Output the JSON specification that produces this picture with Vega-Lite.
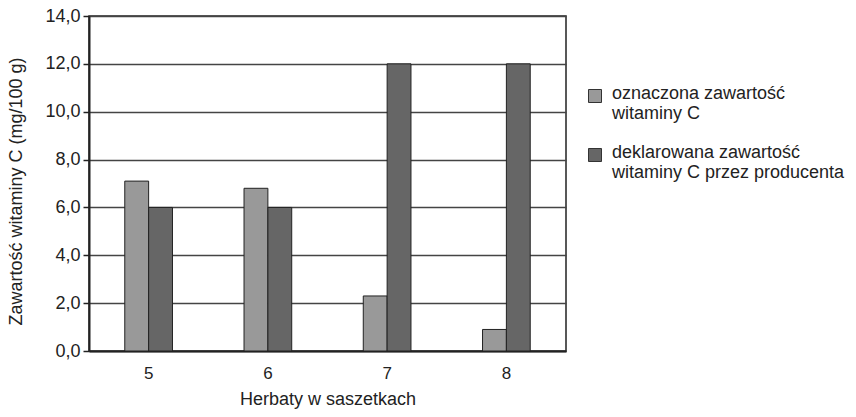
{
  "$schema": "https://vega.github.io/schema/vega-lite/v6.json",
  "width": 477,
  "height": 335,
  "autosize": {"type": "none"},
  "padding": {"left": 89, "top": 16, "right": 290, "bottom": 66},
  "background": "white",
  "config": {
    "font": "Liberation Sans",
    "view": {"stroke": "#222", "strokeWidth": 1.5}
  },
  "data": {
    "values": [
      {"herbata": "5", "seria": "oznaczona zawartość witaminy C", "wartosc": 7.1},
      {"herbata": "5", "seria": "deklarowana zawartość witaminy C przez producenta", "wartosc": 6.0},
      {"herbata": "6", "seria": "oznaczona zawartość witaminy C", "wartosc": 6.8},
      {"herbata": "6", "seria": "deklarowana zawartość witaminy C przez producenta", "wartosc": 6.0},
      {"herbata": "7", "seria": "oznaczona zawartość witaminy C", "wartosc": 2.3},
      {"herbata": "7", "seria": "deklarowana zawartość witaminy C przez producenta", "wartosc": 12.0},
      {"herbata": "8", "seria": "oznaczona zawartość witaminy C", "wartosc": 0.9},
      {"herbata": "8", "seria": "deklarowana zawartość witaminy C przez producenta", "wartosc": 12.0}
    ]
  },
  "mark": {"type": "bar", "stroke": "#222", "strokeWidth": 1},
  "encoding": {
    "x": {
      "field": "herbata",
      "type": "nominal",
      "scale": {"paddingInner": 0.6, "paddingOuter": 0.3},
      "axis": {
        "title": "Herbaty w saszetkach",
        "titleFont": "Liberation Sans",
        "titleFontSize": 18,
        "titleFontWeight": "normal",
        "titleColor": "#222",
        "titlePadding": 9,
        "labelAngle": 0,
        "labelFontSize": 17,
        "labelColor": "#222",
        "labelPadding": 14,
        "ticks": false,
        "domainColor": "#222",
        "domainWidth": 2
      }
    },
    "xOffset": {
      "field": "seria",
      "type": "nominal",
      "sort": ["oznaczona zawartość witaminy C", "deklarowana zawartość witaminy C przez producenta"]
    },
    "y": {
      "field": "wartosc",
      "type": "quantitative",
      "scale": {"domain": [0, 14], "nice": false},
      "axis": {
        "title": "Zawartość witaminy C (mg/100 g)",
        "titleFont": "Liberation Sans",
        "titleFontSize": 18,
        "titleFontWeight": "normal",
        "titleColor": "#222",
        "titleX": -64,
        "titleY": 175,
        "titleAngle": -90,
        "titleAlign": "center",
        "titleBaseline": "bottom",
        "values": [0, 2, 4, 6, 8, 10, 12, 14],
        "labelExpr": "replace(format(datum.value, '.1f'), '.', ',')",
        "labelFontSize": 18,
        "labelColor": "#222",
        "labelPadding": 3,
        "tickSize": 6,
        "tickColor": "#222",
        "tickWidth": 1.5,
        "domainColor": "#222",
        "domainWidth": 2,
        "grid": true,
        "gridColor": "#444",
        "gridWidth": 1.5
      }
    },
    "color": {
      "field": "seria",
      "type": "nominal",
      "sort": ["oznaczona zawartość witaminy C", "deklarowana zawartość witaminy C przez producenta"],
      "scale": {
        "domain": ["oznaczona zawartość witaminy C", "deklarowana zawartość witaminy C przez producenta"],
        "range": ["#999999", "#666666"]
      },
      "legend": {
        "title": null,
        "orient": "none",
        "legendX": 497,
        "legendY": 71,
        "symbolType": "square",
        "symbolSize": 169,
        "symbolStrokeColor": "#333",
        "symbolStrokeWidth": 1,
        "labelFontSize": 18,
        "labelColor": "#222",
        "labelLimit": 400,
        "labelOffset": 8,
        "rowPadding": 21,
        "labelBaseline": "alphabetic",
        "labelExpr": "datum.label == 'oznaczona zawartość witaminy C' ? ['oznaczona zawartość', 'witaminy C'] : ['deklarowana zawartość', 'witaminy C przez producenta']",
        "encode": {"labels": {"update": {"lineHeight": {"value": 20}, "dy": {"value": 3}}}}
      }
    }
  }
}
